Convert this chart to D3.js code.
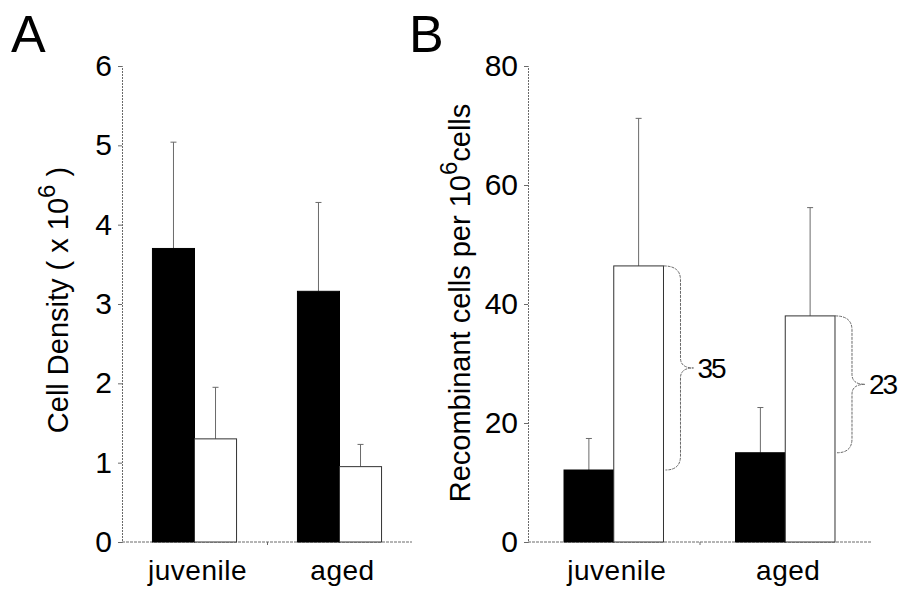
<!DOCTYPE html>
<html>
<head>
<meta charset="utf-8">
<script src="https://cdn.jsdelivr.net/npm/d3@7"></script>
<style>
  body { margin: 0; background: #fff; }
  svg { font-family: "Liberation Sans", Arial, sans-serif; }
</style>
</head>
<body>
<div id="chart"></div>
<script>
// values
const groups = ["juvenile", "aged"];
const series = ["filled", "open"];
const densityMean = [[3.70, 1.30], [3.16, 0.95]];
const densitySD = [[1.34, 0.65], [1.12, 0.28]];
const densityTicks = [0, 1, 2, 3, 4, 5, 6];
const recombMean = [[12.1, 46.4], [15.0, 38.0]];
const recombSD = [[5.3, 24.8], [7.6, 18.2]];
const recombTicks = [0, 20, 40, 60, 80];
const braceLabels = ["35", "23"];

const W = 902, H = 590;
const svg = d3.select("#chart").append("svg")
    .attr("width", W).attr("height", H);

const lineCol = "#6a6a6a";
const fill = { filled: "#000", open: "#fff" };
const FONT = "Liberation Sans, Arial, sans-serif";

function panel(opt) {
    const g = svg.append("g").attr("transform", `translate(${opt.left}, ${opt.top})`);
    const w = opt.width, h = opt.height;

    const x0 = d3.scaleBand().domain(groups).range([0, w]).padding(0);
    const bw = x0.bandwidth();
    const x1 = d3.scaleBand().domain(series).range([bw * 0.21, bw * 0.79]).padding(0);
    const y = d3.scaleLinear().domain(opt.domain).range([h, 0]);

    // axes
    const yAxis = g.append("g").call(d3.axisLeft(y).tickValues(opt.ticks)
        .tickFormat(d3.format("d")).tickSize(4).tickPadding(6));
    yAxis.select(".domain").attr("stroke", lineCol).attr("stroke-dasharray", "2,1");
    yAxis.selectAll(".tick line").attr("stroke", lineCol);
    yAxis.selectAll(".tick text").attr("font-size", 30).attr("fill", "#000")
        .attr("font-family", FONT);

    const xAxis = g.append("g").attr("transform", `translate(0, ${h})`)
        .call(d3.axisBottom(d3.scalePoint().domain(["c"]).range([w / 2, w / 2])).tickSize(3).tickFormat(""));
    xAxis.select(".domain").attr("d", `M0,0H${w}`).attr("stroke", lineCol).attr("stroke-dasharray", "3,1");
    xAxis.selectAll(".tick line").attr("stroke", lineCol);

    // group labels
    g.selectAll(".glabel").data(groups).enter().append("text")
        .attr("x", d => x0(d) + bw / 2 + 3)
        .attr("y", h + 38)
        .attr("text-anchor", "middle")
        .attr("font-size", 28)
        .attr("letter-spacing", 0.5)
        .text(d => d);

    const rows = [];
    groups.forEach((gr, i) => series.forEach((s, j) => {
        rows.push({ g: gr, s: s, i: i, j: j, v: opt.mean[i][j], e: opt.sd[i][j] });
    }));

    const bars = g.selectAll(".bar").data(rows).enter().append("g")
        .attr("transform", d => `translate(${x0(d.g)}, 0)`);

    // error bars (upper only)
    bars.append("line")
        .attr("x1", d => x1(d.s) + x1.bandwidth() / 2)
        .attr("x2", d => x1(d.s) + x1.bandwidth() / 2)
        .attr("y1", d => y(d.v))
        .attr("y2", d => y(d.v + d.e))
        .attr("stroke", lineCol).attr("stroke-width", 1);
    bars.append("line")
        .attr("x1", d => x1(d.s) + x1.bandwidth() / 2 - 3)
        .attr("x2", d => x1(d.s) + x1.bandwidth() / 2 + 3)
        .attr("y1", d => y(d.v + d.e))
        .attr("y2", d => y(d.v + d.e))
        .attr("stroke", lineCol).attr("stroke-width", 1);

    bars.append("rect")
        .attr("x", d => x1(d.s))
        .attr("width", x1.bandwidth())
        .attr("y", d => y(d.v))
        .attr("height", d => h - y(d.v))
        .attr("fill", d => fill[d.s])
        .attr("stroke", d => d.s === "open" ? "#333" : "#000")
        .attr("stroke-width", 1);

    // y label
    const lab = g.append("text")
        .attr("transform", `translate(${opt.labelX}, ${h / 2 + opt.labelDy}) rotate(-90)`)
        .attr("text-anchor", "middle")
        .attr("font-size", 29);
    opt.label(lab);

    // panel letter
    svg.append("text").attr("x", opt.letterX).attr("y", 52)
        .attr("font-size", 52).text(opt.letter);

    return { g, x0, x1, y, bw };
}

const A = panel({
    left: 122, top: 66, width: 290, height: 476,
    domain: [0, 6], ticks: densityTicks,
    mean: densityMean, sd: densitySD,
    labelX: -54, labelDy: -4, letter: "A", letterX: 11,
    label: t => {
        t.append("tspan").text("Cell Density ( x 10");
        t.append("tspan").attr("dy", -13).attr("font-size", 24).text("6");
        t.append("tspan").attr("dy", 13).text(" )");
    }
});

const B = panel({
    left: 528, top: 66, width: 343, height: 476,
    domain: [0, 80], ticks: recombTicks,
    mean: recombMean, sd: recombSD,
    labelX: -58, labelDy: -1, letter: "B", letterX: 409,
    label: t => {
        t.append("tspan").text("Recombinant cells per 10");
        t.append("tspan").attr("dy", -13).attr("font-size", 24).text("6");
        t.append("tspan").attr("dy", 13).text("cells");
    }
});

// curly braces spanning open-bar top down to filled-bar top (panel B)
groups.forEach((gr, i) => {
    const xs = B.x0(gr) + B.x1("open") + B.x1.bandwidth();
    const yt = B.y(recombMean[i][1]);
    const yb = B.y(recombMean[i][0]);
    const ym = (yt + yb) / 2;
    const xa = xs + 17, xt = xs + 30;
    const path = `M${xs},${yt} Q${xa},${yt} ${xa},${yt + 14} L${xa},${ym - 10} Q${xa},${ym} ${xt},${ym}` +
                 ` Q${xa},${ym} ${xa},${ym + 10} L${xa},${yb - 14} Q${xa},${yb} ${xs + 2},${yb}`;
    B.g.append("path").attr("d", path)
        .attr("fill", "none").attr("stroke", lineCol).attr("stroke-width", 1)
        .attr("stroke-dasharray", "3,1");
    B.g.append("text").attr("x", xt + 4).attr("y", ym + 10)
        .attr("font-size", 28).attr("letter-spacing", -2).text(braceLabels[i]);
});
</script>
</body>
</html>
